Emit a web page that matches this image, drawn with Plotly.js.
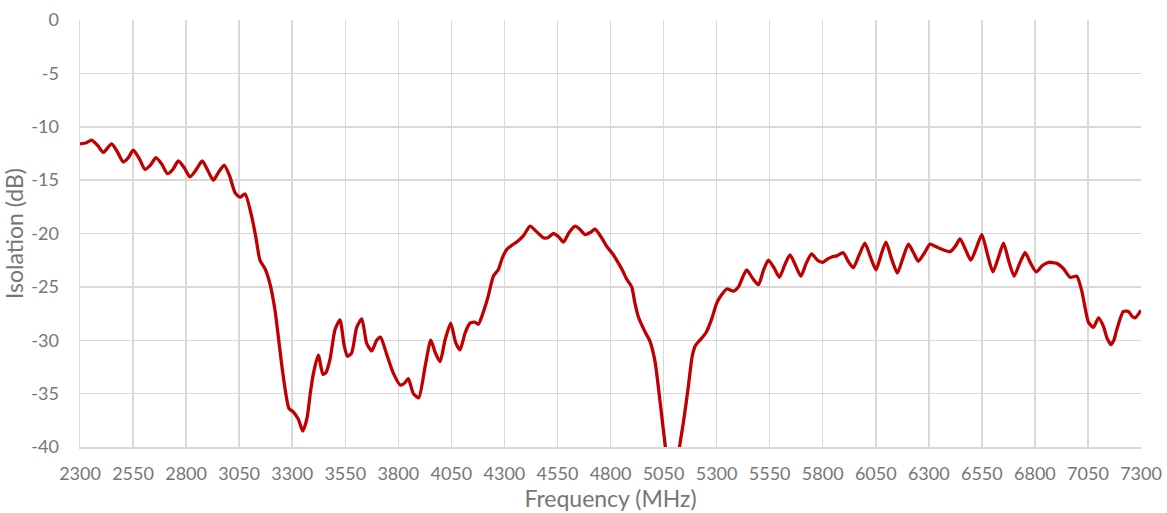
<!DOCTYPE html>
<html>
<head>
<meta charset="utf-8">
<script src="https://cdn.plot.ly/plotly-3.0.1.min.js"></script>
<style>html,body{margin:0;padding:0;background:#fff;}#chart{width:1167px;height:513px;}</style>
</head>
<body>
<div id="chart"></div>
<script>
const frequencyMHz = [2300,2330,2355,2385,2410,2449,2475,2504,2528,2551,2580,2606,2632,2658,2685,2713,2738,2763,2790,2818,2848,2876,2900,2928,2952,2979,3005,3031,3054,3078,3109,3130,3148,3172,3195,3219,3250,3270,3285,3305,3329,3350,3370,3385,3400,3423,3445,3460,3478,3502,3525,3545,3560,3580,3604,3628,3651,3675,3698,3716,3745,3777,3810,3830,3847,3871,3896,3926,3953,3975,3997,4020,4047,4070,4091,4115,4138,4160,4177,4200,4222,4248,4271,4290,4311,4335,4358,4390,4421,4450,4484,4505,4531,4555,4578,4605,4633,4655,4680,4705,4727,4755,4782,4810,4829,4855,4877,4900,4915,4931,4960,4986,5010,5035,5060,5092,5125,5145,5167,5185,5200,5230,5250,5277,5301,5325,5348,5379,5403,5425,5442,5470,5497,5520,5544,5570,5596,5620,5646,5672,5697,5722,5748,5775,5800,5822,5843,5866,5897,5920,5944,5972,5999,6025,6051,6075,6098,6125,6152,6178,6204,6228,6251,6280,6306,6330,6353,6400,6425,6447,6473,6498,6525,6550,6577,6602,6627,6652,6677,6702,6728,6754,6780,6806,6835,6864,6903,6935,6966,6997,7021,7037,7052,7076,7100,7123,7140,7158,7172,7186,7217,7241,7260,7272,7300];
const isolationDB = [-11.6,-11.5,-11.25,-11.8,-12.4,-11.6,-12.3,-13.3,-12.9,-12.2,-13.0,-14.0,-13.6,-12.9,-13.5,-14.4,-14.0,-13.2,-13.8,-14.7,-14.0,-13.2,-14.0,-15.0,-14.3,-13.6,-14.6,-16.2,-16.6,-16.3,-18.4,-20.5,-22.5,-23.3,-24.7,-27.2,-32.2,-35.0,-36.4,-36.7,-37.4,-38.5,-37.3,-35.0,-33.1,-31.4,-33.2,-33.0,-31.8,-29.0,-28.1,-30.5,-31.5,-31.2,-28.8,-28.0,-30.3,-31.0,-30.0,-29.7,-31.3,-33.1,-34.2,-34.0,-33.6,-35.0,-35.4,-32.5,-30.0,-31.2,-32.0,-30.0,-28.4,-30.2,-30.9,-29.3,-28.4,-28.3,-28.5,-27.4,-26.0,-24.0,-23.4,-22.3,-21.5,-21.1,-20.8,-20.2,-19.3,-19.8,-20.4,-20.4,-20.0,-20.3,-20.8,-19.9,-19.3,-19.6,-20.1,-19.9,-19.6,-20.3,-21.2,-21.9,-22.5,-23.4,-24.3,-25.0,-26.5,-27.8,-29.1,-30.1,-32.0,-36.0,-40.2,-44.5,-40.0,-37.5,-34.3,-31.5,-30.5,-29.8,-29.3,-28.0,-26.5,-25.7,-25.2,-25.4,-25.0,-24.0,-23.4,-24.2,-24.8,-23.5,-22.5,-23.2,-24.1,-23.0,-22.0,-23.0,-24.0,-22.8,-21.9,-22.5,-22.7,-22.4,-22.2,-22.1,-21.8,-22.6,-23.2,-22.0,-20.9,-22.2,-23.4,-22.0,-20.8,-22.4,-23.7,-22.3,-21.0,-21.8,-22.6,-21.8,-21.0,-21.2,-21.4,-21.7,-21.2,-20.5,-21.5,-22.5,-21.3,-20.1,-22.0,-23.6,-22.3,-20.9,-22.6,-24.0,-22.8,-21.8,-22.8,-23.6,-23.0,-22.7,-22.8,-23.3,-24.1,-24.0,-25.4,-27.0,-28.3,-28.8,-27.9,-28.7,-29.8,-30.4,-30.0,-29.0,-27.3,-27.3,-27.8,-27.9,-27.2];
const xTickValues = [2300,2550,2800,3050,3300,3550,3800,4050,4300,4550,4800,5050,5300,5550,5800,6050,6300,6550,6800,7050,7300];
const yTickValues = [0,-5,-10,-15,-20,-25,-30,-35,-40];
const yTickLabels = ["0","-5","-10","-15","-20","-25","-30","-35","-40"];
const xTitle = "Frequency (MHz)";
const yTitle = "Isolation (dB)";

const font = "Lato, 'Open Sans', sans-serif";
const gray = "#767676";
const grid = "#d9d9d9";

Plotly.newPlot("chart", [{
  x: frequencyMHz,
  y: isolationDB,
  type: "scatter",
  mode: "lines",
  line: {color: "#c00000", width: 3.3, shape: "spline", smoothing: 0.6},
  hoverinfo: "skip"
}], {
  width: 1167, height: 513,
  margin: {l: 80, r: 26, t: 20, b: 66},
  paper_bgcolor: "#fff", plot_bgcolor: "#fff",
  showlegend: false,
  font: {family: font, color: gray, size: 18},
  xaxis: {
    range: [2300, 7300],
    tickvals: xTickValues,
    ticktext: xTickValues.map(String),
    showgrid: true, gridcolor: grid, gridwidth: 1.5,
    showline: true, linecolor: grid, linewidth: 1.5,
    zeroline: false, ticks: "",
    ticklabelstandoff: 10,
    tickfont: {family: font, size: 18, color: gray},
    title: {text: xTitle, font: {family: font, size: 23, color: gray}, standoff: 7}
  },
  yaxis: {
    range: [-40, 0],
    tickvals: yTickValues,
    ticktext: yTickLabels,
    showgrid: true, gridcolor: grid, gridwidth: 1.5,
    showline: true, linecolor: grid, linewidth: 1.5,
    zeroline: false, ticks: "",
    ticklabelstandoff: 16,
    tickfont: {family: font, size: 18, color: gray},
    title: {text: yTitle, font: {family: font, size: 23, color: gray}, standoff: 2}
  }
}, {staticPlot: true, displayModeBar: false});
</script>
</body>
</html>
